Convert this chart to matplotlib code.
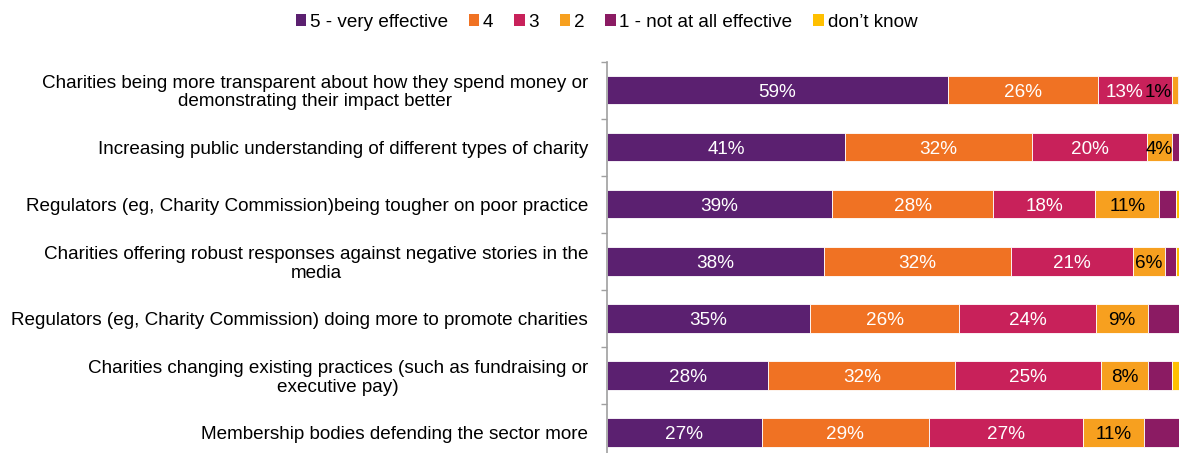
import numpy as np
import matplotlib
matplotlib.use('Agg')
import matplotlib.pyplot as plt
from matplotlib.patches import Patch

plt.rcParams['font.family'] = ['Liberation Sans', 'DejaVu Sans']

# statements, top to bottom
statements = [
    'Charities being more transparent about how they spend money or\ndemonstrating their impact better',
    'Increasing public understanding of different types of charity',
    'Regulators (eg, Charity Commission)being tougher on poor practice',
    'Charities offering robust responses against negative stories in the\nmedia',
    'Regulators (eg, Charity Commission) doing more to promote charities',
    'Charities changing existing practices (such as fundraising or\nexecutive pay)',
    'Membership bodies defending the sector more',
]

# shares (%) per answer, one value per statement
very_effective = [59.0, 41.2, 39.0, 37.5, 35.2, 27.9, 26.8]
score_4 = [26.0, 32.4, 27.8, 32.4, 25.8, 32.4, 28.9]
score_3 = [12.8, 19.9, 17.7, 21.1, 23.6, 25.1, 26.6]
score_2 = [1.0, 4.2, 11.1, 5.6, 9.0, 8.3, 10.7]
not_at_all = [0.4, 2.3, 2.9, 1.9, 6.4, 4.0, 5.9]
dont_know = [0.0, 0.0, 1.0, 0.6, 0.0, 1.5, 0.3]

series_names = ['5 - very effective', '4', '3', '2', '1 - not at all effective', 'don\u2019t know']
series_vals = [very_effective, score_4, score_3, score_2, not_at_all, dont_know]
colors = ['#5B2070', '#F07223', '#C8215A', '#F7A01F', '#8B1B63', '#FFC000']
label_colors = ['white', 'white', 'white', 'black', None, None]

fig = plt.figure(figsize=(11.79, 4.53), dpi=100)
ax = fig.add_axes([0.5148, -0.0177, 0.4902, 0.8819])

y = np.arange(len(statements))
left = np.zeros(len(statements))
for k, (name, vals, col, lc) in enumerate(zip(series_names, series_vals, colors, label_colors)):
    vals = np.array(vals)
    ax.barh(y, vals, left=left, height=0.5, color=col, edgecolor='white',
            linewidth=0.6, label=name)
    if lc is not None:
        nxt = series_vals[k + 1] if label_colors[k + 1] is not None else None
        for yi, (l, v) in enumerate(zip(left, vals)):
            dx = 0
            if v < 2:
                dx = -12  # tiny segment: label pushed left, as in the source
            elif nxt is not None and nxt[yi] < 2:
                dx = -8   # make room for the neighbouring tiny label
            ax.annotate(f'{v:.0f}%', (l + v / 2, yi), xytext=(dx, -1.5),
                        textcoords='offset points', ha='center', va='center',
                        color=lc, fontsize=13.6)
    left += vals

ax.set_xlim(0, 100)
ax.set_ylim(len(statements) - 0.5, -0.5)
ax.set_yticks(y)
ax.set_yticklabels(statements, fontsize=13.6, multialignment='center', linespacing=1.1)
ax.set_yticks(np.arange(len(statements) + 1) - 0.5, minor=True)
ax.tick_params(axis='y', which='major', length=0, pad=13.5)
ax.tick_params(axis='y', which='minor', length=4, width=1, color='#A0A0A0', direction='out')
ax.set_xticks([])
for s in ['top', 'right', 'bottom']:
    ax.spines[s].set_visible(False)
ax.spines['left'].set_color('#A0A0A0')
ax.spines['left'].set_linewidth(1.2)

handles = [Patch(facecolor=c, edgecolor='none') for c in colors]
fig.legend(handles, series_names, loc='center', bbox_to_anchor=(0.5144, 0.951),
           ncol=6, frameon=False, fontsize=13.6, handlelength=0.55, handleheight=0.55,
           handletextpad=0.2, columnspacing=1.1)

fig.savefig('out.png', dpi=100)
